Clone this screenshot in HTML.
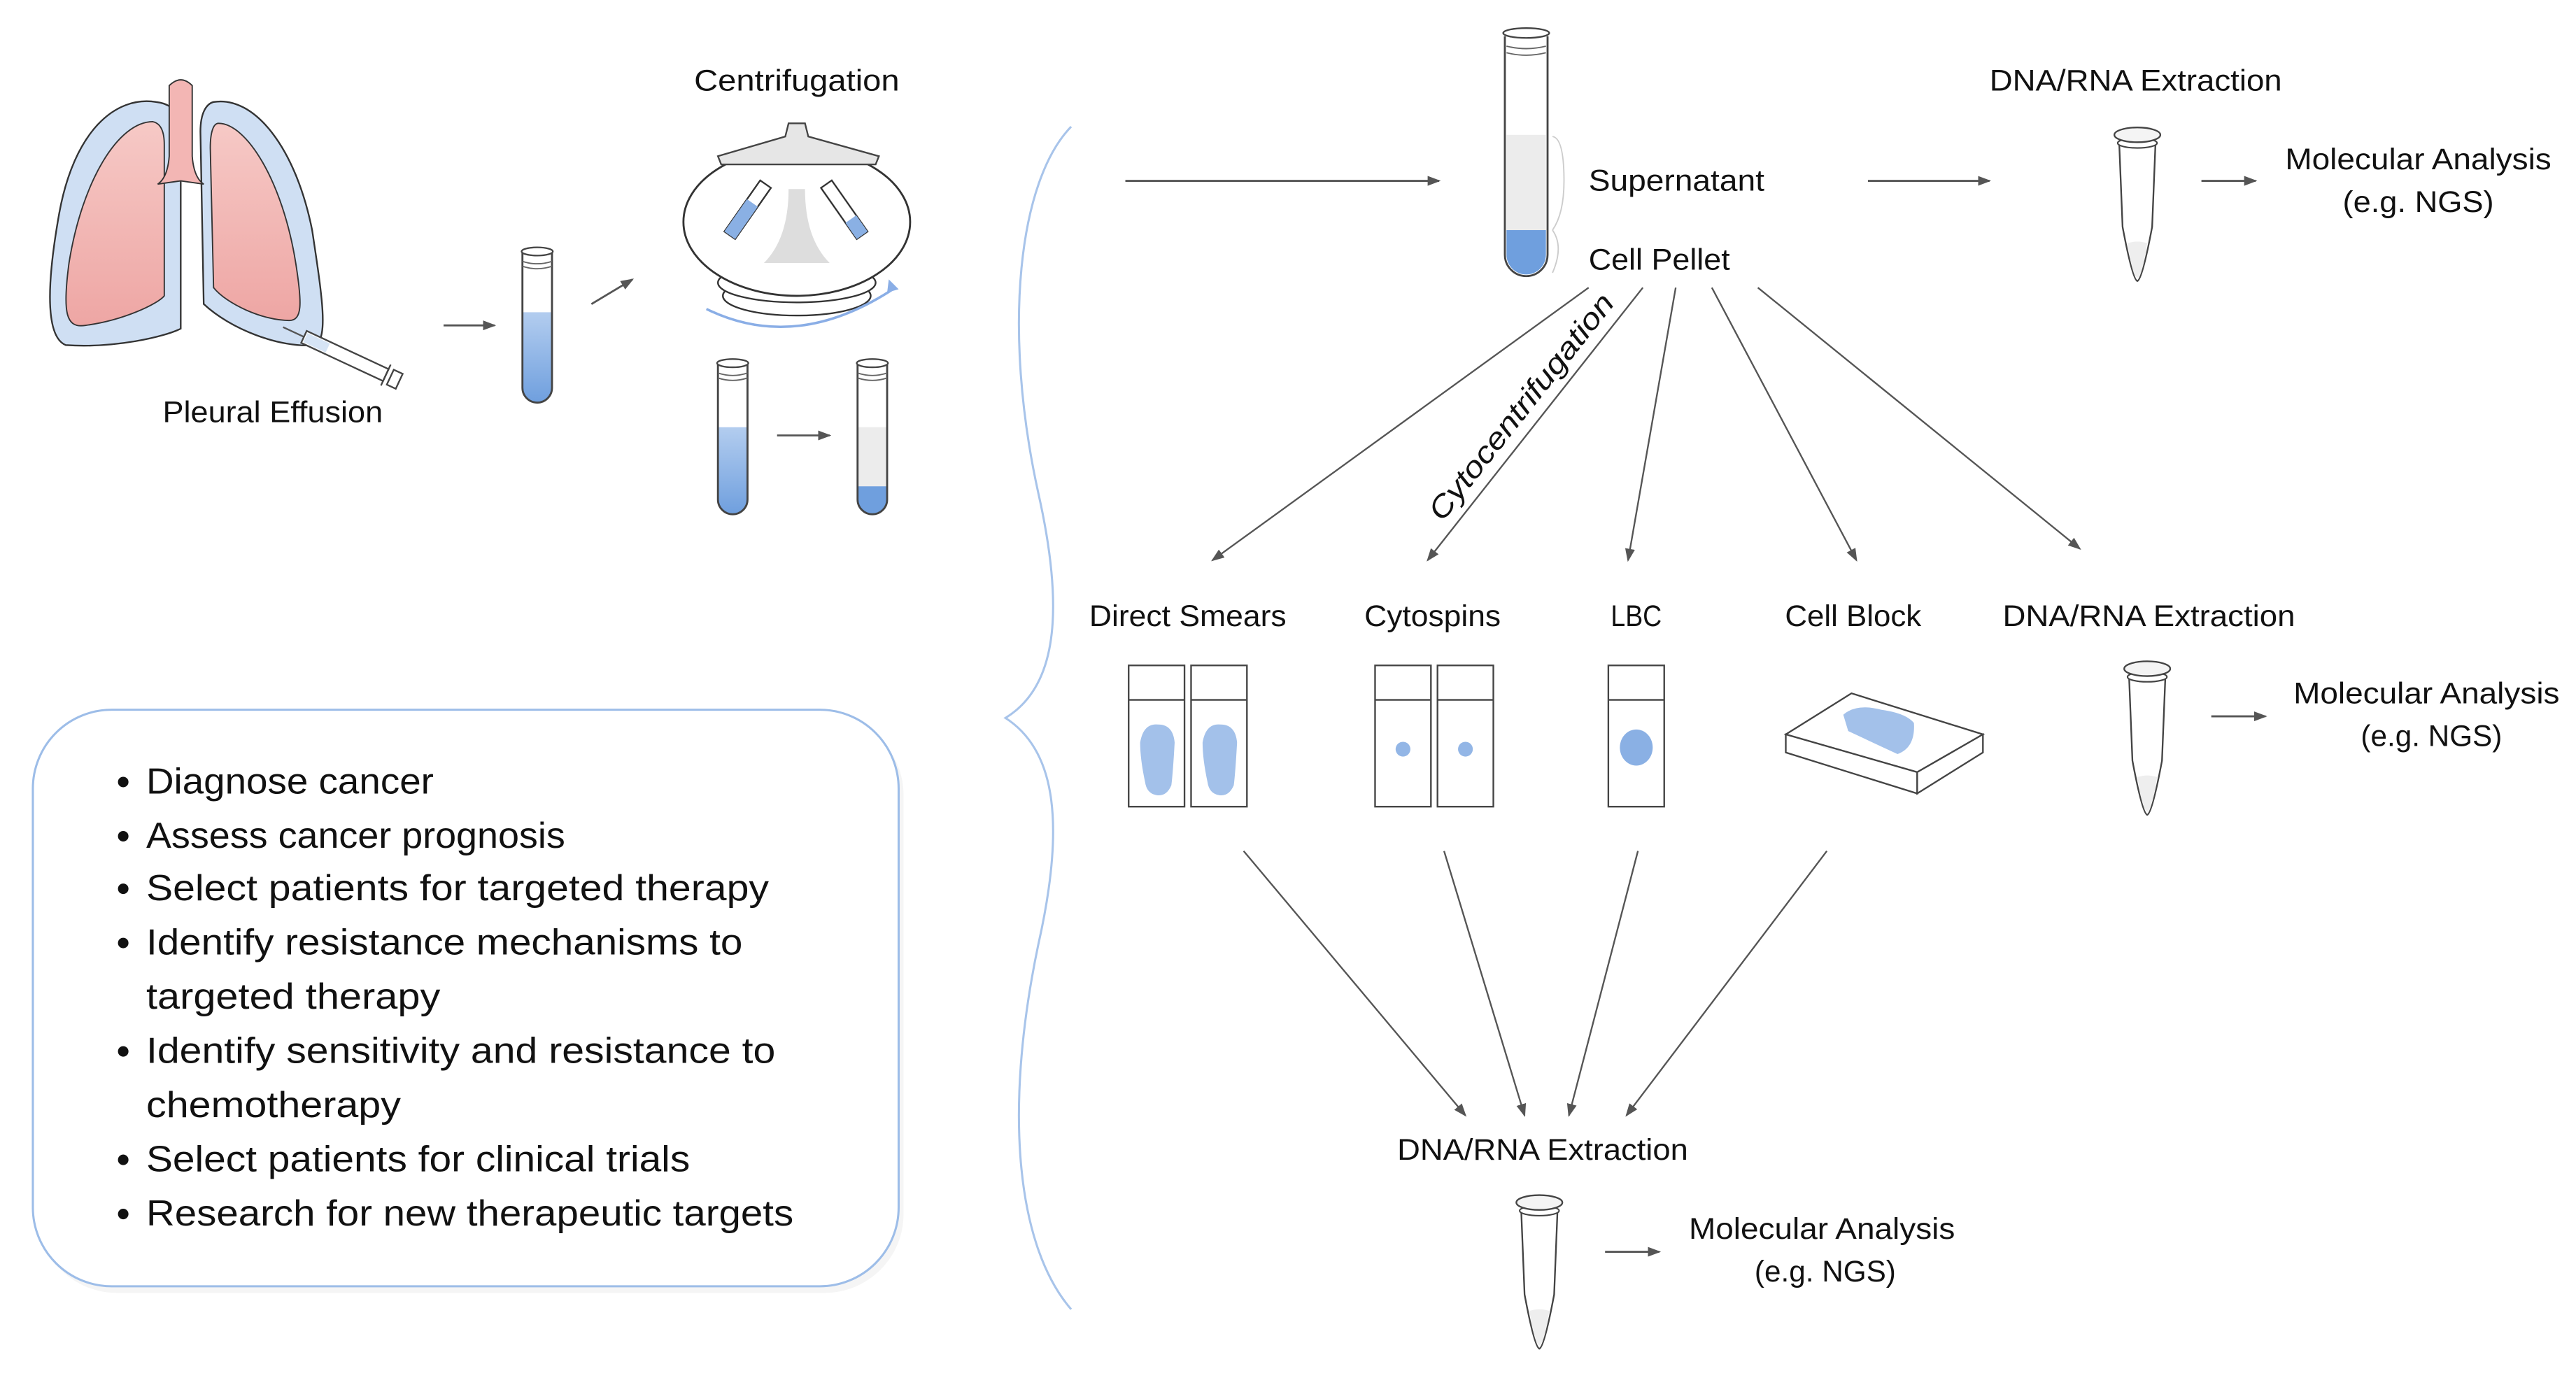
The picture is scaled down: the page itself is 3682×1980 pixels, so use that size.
<!DOCTYPE html>
<html><head><meta charset="utf-8"><style>
html,body{margin:0;padding:0;background:#fff;}
svg{display:block;}
text{font-family:"Liberation Sans",sans-serif;fill:#111;}
</style></head><body>
<svg width="3682" height="1980" viewBox="0 0 1568 843" xmlns="http://www.w3.org/2000/svg">
<defs>
<marker id="ah" markerWidth="8" markerHeight="8" refX="7" refY="4" orient="auto" markerUnits="userSpaceOnUse">
<path d="M0,1 L8,4 L0,7 Z" fill="#555"/></marker>
<linearGradient id="blu" x1="0" y1="0" x2="0" y2="1"><stop offset="0" stop-color="#b3cdef"/><stop offset="1" stop-color="#6f9fde"/></linearGradient>
<linearGradient id="pk" x1="0" y1="0" x2="0" y2="1"><stop offset="0" stop-color="#f6c9c6"/><stop offset="1" stop-color="#eea6a4"/></linearGradient>
<g id="epp">
<path d="M-11,10 L11,10 L9,60 Q3,92 0,93 Q-3,92 -9,60 Z" fill="#fff" stroke="#444" stroke-width="1"/>
<path d="M-6,70 Q0,68 6,70 Q3,90 0,91 Q-3,90 -6,70Z" fill="#eee"/>
<ellipse cx="0" cy="9" rx="12" ry="3" fill="#fff" stroke="#444" stroke-width="0.9"/>
<ellipse cx="0" cy="4" rx="14" ry="4.5" fill="#f4f4f4" stroke="#444" stroke-width="1"/>
</g>
<g id="tubebg"><path d="M0,4 L0,86 A9,9 0 0 0 18,86 L18,4Z" fill="#fff"/></g>
<g id="tube">
<path d="M0,4 L0,86 A9,9 0 0 0 18,86 L18,4" fill="none" stroke="#444" stroke-width="1.2"/>
<ellipse cx="9" cy="3" rx="9.5" ry="2.5" fill="#fff" stroke="#444" stroke-width="1"/>
<path d="M0,9 Q9,12 18,9 M0,12 Q9,15 18,12" fill="none" stroke="#666" stroke-width="0.8"/>
</g>
</defs>

<!-- Lungs -->
<path d="M95,62 C70,58 45,80 36,130 C28,175 28,205 40,210 C70,212 100,205 110,200 L110,80 C110,68 104,63 95,62Z" fill="#cfdff3" stroke="#333" stroke-width="1"/>
<path d="M93,74 C72,74 50,110 42,160 C38,190 40,200 52,198 C75,195 96,185 100,180 L100,88 C100,80 98,75 93,74Z" fill="url(#pk)" stroke="#333" stroke-width="0.8"/>
<path d="M130,62 C155,58 180,90 190,140 C196,180 200,205 192,210 C170,212 140,200 124,185 L122,80 C122,68 126,63 130,62Z" fill="#cfdff3" stroke="#333" stroke-width="1"/>
<path d="M133,75 C150,75 172,110 180,160 C184,185 184,195 176,195 C160,195 138,185 130,175 L128,90 C128,80 130,75 133,75Z" fill="url(#pk)" stroke="#333" stroke-width="0.8"/>
<path d="M103,52 Q110,45 117,52 L117,95 Q118,108 124,112 L110,110 L96,112 Q102,108 103,95Z" fill="#f3b6b4" stroke="#333" stroke-width="0.8"/>
<g transform="translate(185,205) rotate(25)">
<line x1="-14" y1="0" x2="0" y2="0" stroke="#555" stroke-width="1"/>
<rect x="0" y="-4" width="55" height="8" fill="#fff" stroke="#444" stroke-width="1"/>
<rect x="1" y="-3" width="15" height="6" fill="#d6e4f5"/>
<line x1="55" y1="-7" x2="55" y2="7" stroke="#444"/>
<rect x="58" y="-5" width="6" height="10" fill="#fff" stroke="#444"/>
</g>
<text x="166" y="257" text-anchor="middle" font-size="18" textLength="134" lengthAdjust="spacingAndGlyphs">Pleural Effusion</text>

<line x1="270" y1="198" x2="301" y2="198" stroke="#555" stroke-width="1.2" marker-end="url(#ah)"/>
<use href="#tubebg" x="318" y="150"/>
<path d="M318,190 L336,190 L336,236 A9,9 0 0 1 318,236Z" fill="url(#blu)"/>
<use href="#tube" x="318" y="150"/>
<line x1="360" y1="185" x2="385" y2="170" stroke="#555" stroke-width="1.2" marker-end="url(#ah)"/>

<text x="485" y="55" text-anchor="middle" font-size="18" textLength="125" lengthAdjust="spacingAndGlyphs">Centrifugation</text>
<!-- centrifuge -->
<ellipse cx="485" cy="180" rx="45" ry="12" fill="#fff" stroke="#333"/>
<ellipse cx="485" cy="172" rx="48" ry="12" fill="#fff" stroke="#333"/>
<ellipse cx="485" cy="135" rx="69" ry="45" fill="#fff" stroke="#333" stroke-width="1.2"/>
<path d="M480,115 L490,115 Q490,145 505,160 L465,160 Q480,145 480,115Z" fill="#ddd"/>
<path d="M430,188 Q485,215 545,175" fill="none" stroke="#8aaee6" stroke-width="1.5"/>
<path d="M541,170 L547,176 L540,178Z" fill="#8aaee6"/>
<g transform="translate(466,112) rotate(35)"><rect x="-4" y="0" width="8" height="38" fill="#fff" stroke="#333"/><rect x="-4" y="14" width="8" height="24" fill="#8ab0e4"/></g>
<g transform="translate(503,112) rotate(-35)"><rect x="-4" y="0" width="8" height="38" fill="#fff" stroke="#333"/><rect x="-4" y="26" width="8" height="12" fill="#8ab0e4"/></g>
<path d="M437,95 L478,83 L480,75 L490,75 L492,83 L535,95 L533,100 L439,100Z" fill="#e6e6e6" stroke="#444"/>

<use href="#tubebg" x="437" y="218"/>
<path d="M437,260 L455,260 L455,304 A9,9 0 0 1 437,304Z" fill="url(#blu)"/>
<use href="#tube" x="437" y="218"/>
<line x1="473" y1="265" x2="505" y2="265" stroke="#555" stroke-width="1.2" marker-end="url(#ah)"/>
<use href="#tubebg" x="522" y="218"/>
<rect x="522" y="260" width="18" height="38" fill="#ececec"/>
<path d="M522,296 L540,296 L540,304 A9,9 0 0 1 522,304Z" fill="#6f9fde"/>
<use href="#tube" x="522" y="218"/>

<!-- big brace -->
<path d="M652,77 C620,110 610,200 632,300 C650,380 640,420 612,437 C640,455 650,495 632,575 C610,680 620,760 652,797" fill="none" stroke="#a8c4ea" stroke-width="1.3"/>

<line x1="685" y1="110" x2="876" y2="110" stroke="#555" stroke-width="1.2" marker-end="url(#ah)"/>

<!-- main tube -->
<path d="M916,22 L916,155 A13,13 0 0 0 942,155 L942,22" fill="#fff" stroke="#444" stroke-width="1.2"/>
<rect x="917" y="82" width="24" height="58" fill="#ececec"/>
<path d="M917,140 L941,140 L941,155 A12,12 0 0 1 917,155Z" fill="#6f9fde"/>
<ellipse cx="929" cy="20" rx="14" ry="3" fill="#fff" stroke="#444"/>
<path d="M917,28 Q929,31 941,28 M917,32 Q929,35 941,32" fill="none" stroke="#666" stroke-width="0.8"/>
<path d="M945,83 Q952,84 952,110 Q952,130 945,140 M945,140 Q952,150 945,166" fill="none" stroke="#ccc" stroke-width="0.8"/>
<text x="967" y="116" font-size="18" textLength="107" lengthAdjust="spacingAndGlyphs">Supernatant</text>
<text x="967" y="164" font-size="18" textLength="86" lengthAdjust="spacingAndGlyphs">Cell Pellet</text>

<line x1="1137" y1="110" x2="1211" y2="110" stroke="#555" stroke-width="1.2" marker-end="url(#ah)"/>
<text x="1300" y="55" text-anchor="middle" font-size="18" textLength="178" lengthAdjust="spacingAndGlyphs">DNA/RNA Extraction</text>
<use href="#epp" x="1301" y="78"/>
<line x1="1340" y1="110" x2="1373" y2="110" stroke="#555" stroke-width="1.2" marker-end="url(#ah)"/>
<text x="1472" y="103" text-anchor="middle" font-size="18" textLength="162" lengthAdjust="spacingAndGlyphs">Molecular Analysis</text>
<text x="1472" y="129" text-anchor="middle" font-size="18" textLength="92" lengthAdjust="spacingAndGlyphs">(e.g. NGS)</text>

<!-- fan arrows -->
<g stroke="#555" stroke-width="1" marker-end="url(#ah)">
<line x1="967" y1="175" x2="738" y2="341"/>
<line x1="1000" y1="175" x2="869" y2="341"/>
<line x1="1020" y1="175" x2="991" y2="341"/>
<line x1="1042" y1="175" x2="1130" y2="341"/>
<line x1="1070" y1="175" x2="1266" y2="334"/>
</g>
<text transform="translate(878,318) rotate(-51.7)" font-size="18" font-style="italic" textLength="170" lengthAdjust="spacingAndGlyphs">Cytocentrifugation</text>

<g font-size="18">
<text x="723" y="381" text-anchor="middle" textLength="120" lengthAdjust="spacingAndGlyphs">Direct Smears</text>
<text x="872" y="381" text-anchor="middle" textLength="83" lengthAdjust="spacingAndGlyphs">Cytospins</text>
<text x="996" y="381" text-anchor="middle" textLength="31" lengthAdjust="spacingAndGlyphs">LBC</text>
<text x="1128" y="381" text-anchor="middle" textLength="83" lengthAdjust="spacingAndGlyphs">Cell Block</text>
<text x="1308" y="381" text-anchor="middle" textLength="178" lengthAdjust="spacingAndGlyphs">DNA/RNA Extraction</text>
</g>

<!-- slides -->
<g fill="#fff" stroke="#444" stroke-width="1">
<rect x="687" y="405" width="34" height="86"/><line x1="687" y1="426" x2="721" y2="426"/>
<rect x="725" y="405" width="34" height="86"/><line x1="725" y1="426" x2="759" y2="426"/>
<rect x="837" y="405" width="34" height="86"/><line x1="837" y1="426" x2="871" y2="426"/>
<rect x="875" y="405" width="34" height="86"/><line x1="875" y1="426" x2="909" y2="426"/>
<rect x="979" y="405" width="34" height="86"/><line x1="979" y1="426" x2="1013" y2="426"/>
</g>
<path d="M694,452 Q696,440 705,441 Q714,441 715,452 Q714,470 713,478 Q710,485 704,484 Q698,483 697,476 Q694,462 694,452Z" fill="#a3c1ea"/>
<path d="M732,452 Q734,440 743,441 Q752,441 753,452 Q752,470 751,478 Q748,485 742,484 Q736,483 735,476 Q732,462 732,452Z" fill="#a3c1ea"/>
<circle cx="854" cy="456" r="4.5" fill="#93b6e6"/>
<circle cx="892" cy="456" r="4.5" fill="#93b6e6"/>
<ellipse cx="996" cy="455" rx="10" ry="11" fill="#8ab0e4"/>
<!-- cell block -->
<path d="M1087,447 L1127,422 L1207,447 L1167,470Z" fill="#fff" stroke="#444"/>
<path d="M1087,447 L1087,458 L1167,483 L1167,470Z" fill="#fff" stroke="#444"/>
<path d="M1167,470 L1207,447 L1207,458 L1167,483Z" fill="#fff" stroke="#444"/>
<path d="M1122,435 Q1130,428 1145,432 Q1160,434 1165,440 Q1166,455 1155,459 Q1140,452 1125,445Z" fill="#a3c1ea"/>

<use href="#epp" x="1307" y="403"/>
<line x1="1346" y1="436" x2="1379" y2="436" stroke="#555" stroke-width="1.2" marker-end="url(#ah)"/>
<text x="1477" y="428" text-anchor="middle" font-size="18" textLength="162" lengthAdjust="spacingAndGlyphs">Molecular Analysis</text>
<text x="1480" y="454" text-anchor="middle" font-size="18" textLength="86" lengthAdjust="spacingAndGlyphs">(e.g. NGS)</text>

<g stroke="#555" stroke-width="1" marker-end="url(#ah)">
<line x1="757" y1="518" x2="892" y2="679"/>
<line x1="879" y1="518" x2="928" y2="679"/>
<line x1="997" y1="518" x2="955" y2="679"/>
<line x1="1112" y1="518" x2="990" y2="679"/>
</g>
<text x="939" y="706" text-anchor="middle" font-size="18" textLength="177" lengthAdjust="spacingAndGlyphs">DNA/RNA Extraction</text>
<use href="#epp" x="937" y="728"/>
<line x1="977" y1="762" x2="1010" y2="762" stroke="#555" stroke-width="1.2" marker-end="url(#ah)"/>
<text x="1109" y="754" text-anchor="middle" font-size="18" textLength="162" lengthAdjust="spacingAndGlyphs">Molecular Analysis</text>
<text x="1111" y="780" text-anchor="middle" font-size="18" textLength="86" lengthAdjust="spacingAndGlyphs">(e.g. NGS)</text>

<!-- box -->
<rect x="23" y="436" width="527" height="351" rx="48" fill="#eee" opacity="0.6"/>
<rect x="20" y="432" width="527" height="351" rx="48" fill="#fff" stroke="#9dbde8" stroke-width="1.3"/>
<g font-size="22">
<g fill="#111"><circle cx="75" cy="476" r="3.2"/><circle cx="75" cy="509" r="3.2"/><circle cx="75" cy="541" r="3.2"/><circle cx="75" cy="574" r="3.2"/><circle cx="75" cy="640" r="3.2"/><circle cx="75" cy="706" r="3.2"/><circle cx="75" cy="739" r="3.2"/></g>
<text x="89" y="483" textLength="175" lengthAdjust="spacingAndGlyphs">Diagnose cancer</text>
<text x="89" y="516" textLength="255" lengthAdjust="spacingAndGlyphs">Assess cancer prognosis</text>
<text x="89" y="548" textLength="379" lengthAdjust="spacingAndGlyphs">Select patients for targeted therapy</text>
<text x="89" y="581" textLength="363" lengthAdjust="spacingAndGlyphs">Identify resistance mechanisms to</text>
<text x="89" y="614" textLength="179" lengthAdjust="spacingAndGlyphs">targeted therapy</text>
<text x="89" y="647" textLength="383" lengthAdjust="spacingAndGlyphs">Identify sensitivity and resistance to</text>
<text x="89" y="680" textLength="155" lengthAdjust="spacingAndGlyphs">chemotherapy</text>
<text x="89" y="713" textLength="331" lengthAdjust="spacingAndGlyphs">Select patients for clinical trials</text>
<text x="89" y="746" textLength="394" lengthAdjust="spacingAndGlyphs">Research for new therapeutic targets</text>
</g>
</svg>
</body></html>
